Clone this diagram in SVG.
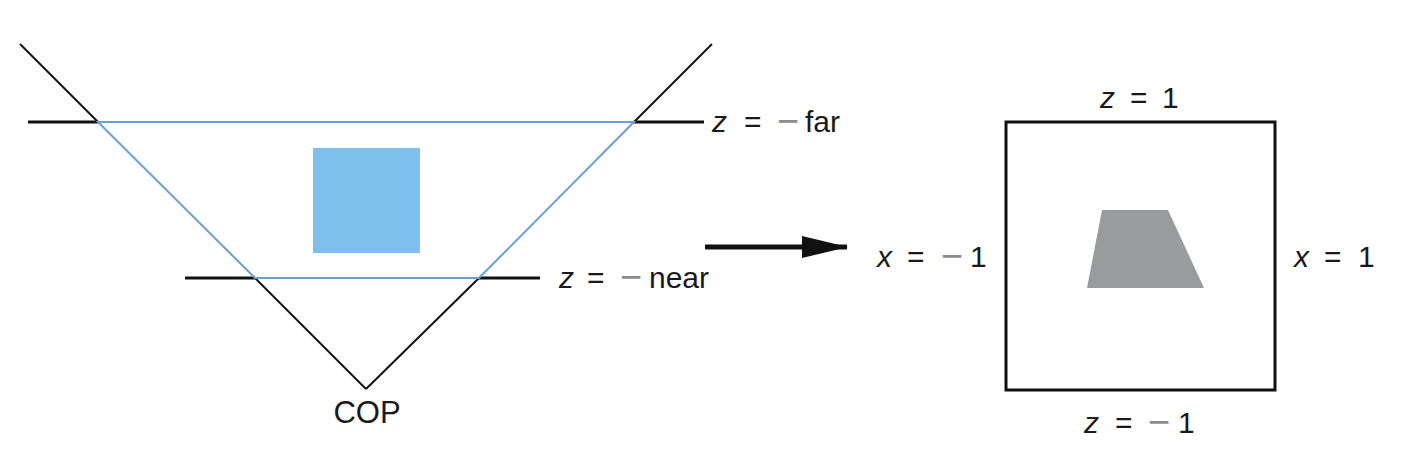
<svg xmlns="http://www.w3.org/2000/svg" width="1416" height="463" viewBox="0 0 1416 463">
  <style>
    .blk { stroke: #111; fill: none; stroke-linecap: butt; }
    .thin { stroke-width: 2; }
    .thick { stroke-width: 3; }
    .blue { stroke: #6a9fd6; stroke-width: 2; fill: none; }
    .lbl { font-family: "Liberation Sans", Arial, sans-serif; font-size: 30px; fill: #1a1a1a; }
    .var { font-style: italic; }
    .minus { fill: #8c8c8c; font-family: "Liberation Sans", Arial, sans-serif; font-size: 38px; }
  </style>
  <defs>
    <marker id="arrowhead" markerUnits="userSpaceOnUse" markerWidth="46" markerHeight="22" refX="45" refY="11" orient="auto">
      <path d="M0,0 L46,11 L0,22 Z" fill="#111"/>
    </marker>
  </defs>
  <rect width="1416" height="463" fill="#ffffff"/>

  <g id="frustum">
    <line class="blk thin" x1="20" y1="44" x2="98" y2="122"/>
    <line class="blk thin" x1="712" y1="44" x2="634" y2="122"/>
    <line class="blk thin" x1="255" y1="278" x2="366" y2="389"/>
    <line class="blk thin" x1="479" y1="278" x2="366" y2="389"/>
    <line class="blk thick" x1="28" y1="122" x2="98" y2="122"/>
    <line class="blk thick" x1="634" y1="122" x2="704" y2="122"/>
    <line class="blk thick" x1="185" y1="278" x2="255" y2="278"/>
    <line class="blk thick" x1="479" y1="278" x2="540" y2="278"/>
    <polygon class="blue" points="98,122 634,122 479,278 255,278"/>
  </g>

  <g id="object">
    <rect x="313" y="148" width="107" height="105" fill="#7fbfee"/>
  </g>

  <g id="labels-left">
    <text class="lbl" y="132"><tspan class="var" x="712">z</tspan><tspan x="744">=</tspan><tspan class="minus" x="777" dy="2">−</tspan><tspan x="805" dy="-2">far</tspan></text>
    <text class="lbl" y="288"><tspan class="var" x="559">z</tspan><tspan x="587">=</tspan><tspan class="minus" x="620" dy="2">−</tspan><tspan x="649" dy="-2">near</tspan></text>
    <text class="lbl" x="367" y="423" text-anchor="middle" style="font-size:31px">COP</text>
  </g>

  <g id="connectors">
    <line x1="705" y1="247" x2="847" y2="247" stroke="#111" stroke-width="5" marker-end="url(#arrowhead)"/>
  </g>

  <g id="ndc-box">
    <rect x="1006" y="122" width="269" height="268" fill="none" stroke="#111" stroke-width="3"/>
    <polygon points="1102,210 1168,210 1204,288 1087,288" fill="#9a9b9c"/>
  </g>

  <g id="labels-right">
    <text class="lbl" y="108"><tspan class="var" x="1100">z</tspan><tspan x="1130">=</tspan><tspan x="1162">1</tspan></text>
    <text class="lbl" y="433"><tspan class="var" x="1084">z</tspan><tspan x="1115">=</tspan><tspan class="minus" x="1148" dy="2">−</tspan><tspan x="1178" dy="-2">1</tspan></text>
    <text class="lbl" y="267"><tspan class="var" x="877">x</tspan><tspan x="907">=</tspan><tspan class="minus" x="941" dy="2">−</tspan><tspan x="970" dy="-2">1</tspan></text>
    <text class="lbl" y="267"><tspan class="var" x="1294">x</tspan><tspan x="1324">=</tspan><tspan x="1358">1</tspan></text>
  </g>
</svg>
